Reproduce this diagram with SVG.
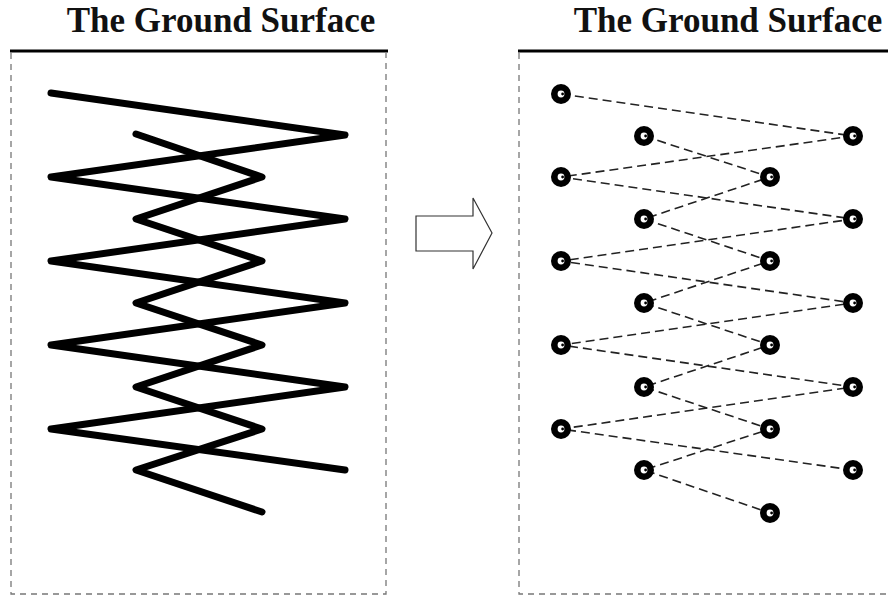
<svg xmlns="http://www.w3.org/2000/svg" width="888" height="596" viewBox="0 0 888 596">
<style>
.title{font-family:"Liberation Serif","Times New Roman",serif;font-weight:bold;font-size:35px;fill:#111;}
.ground{stroke:#000;stroke-width:3;fill:none;}
.frame{stroke:#777;stroke-width:1.3;stroke-dasharray:6,5;fill:none;}
.zig{stroke:#000;stroke-width:7;fill:none;stroke-linecap:round;stroke-linejoin:round;}
.dash{stroke:#222;stroke-width:1.6;stroke-dasharray:9,5;fill:none;}
.arrow{stroke:#333;stroke-width:1.2;fill:#fff;}
</style>
<defs>
<g id="node">
<circle r="10" fill="#000"/>
<circle r="3.4" fill="#fff"/>
<circle cx="1.6" cy="0" r="1.4" fill="#000"/>
</g>
</defs>
<rect width="888" height="596" fill="#fff"/>

<g id="left-panel">
<text class="title" x="221" y="32" text-anchor="middle">The Ground Surface</text>
<line class="ground" x1="10" y1="51" x2="388" y2="51"/>
<polyline class="frame" points="11,53 11,594 386,594 386,53"/>
<polyline id="large-zigzag" class="zig" points="51,93 345,135 51,177 345,219 51,261 345,303 51,345 345,387 51,429 345,470"/>
<polyline id="small-zigzag" class="zig" points="136,134 262,177 136,219 262,261 136,303 262,345 136,387 262,429 136,470 262,512"/>
</g>

<g id="transform-arrow">
<polygon class="arrow" points="416,216 473,216 473,198 492,233 473,269 473,251 416,251"/>
</g>

<g id="right-panel">
<text class="title" x="728" y="32" text-anchor="middle">The Ground Surface</text>
<line class="ground" x1="518" y1="51" x2="888" y2="51"/>
<polyline class="frame" points="519,53 519,594 888,594"/>
</g>

<g id="connectors">
<polyline class="dash" points="561,94 853,136 561,177 853,219 561,261 853,303 561,345 853,387 561,429 853,470"/>
<polyline class="dash" points="644,136 770,177 644,219 770,261 644,303 770,345 644,387 770,429 644,470 770,513"/>
</g>

<g id="nodes">
<g id="a1"><use href="#node" x="561" y="94"/></g>
<g id="a2"><use href="#node" x="561" y="177"/></g>
<g id="a3"><use href="#node" x="561" y="261"/></g>
<g id="a4"><use href="#node" x="561" y="345"/></g>
<g id="a5"><use href="#node" x="561" y="429"/></g>
<g id="b1"><use href="#node" x="644" y="136"/></g>
<g id="b2"><use href="#node" x="644" y="219"/></g>
<g id="b3"><use href="#node" x="644" y="303"/></g>
<g id="b4"><use href="#node" x="644" y="387"/></g>
<g id="b5"><use href="#node" x="644" y="470"/></g>
<g id="c1"><use href="#node" x="770" y="177"/></g>
<g id="c2"><use href="#node" x="770" y="261"/></g>
<g id="c3"><use href="#node" x="770" y="345"/></g>
<g id="c4"><use href="#node" x="770" y="429"/></g>
<g id="c5"><use href="#node" x="770" y="513"/></g>
<g id="d1"><use href="#node" x="853" y="136"/></g>
<g id="d2"><use href="#node" x="853" y="219"/></g>
<g id="d3"><use href="#node" x="853" y="303"/></g>
<g id="d4"><use href="#node" x="853" y="387"/></g>
<g id="d5"><use href="#node" x="853" y="470"/></g>
</g>
</svg>
